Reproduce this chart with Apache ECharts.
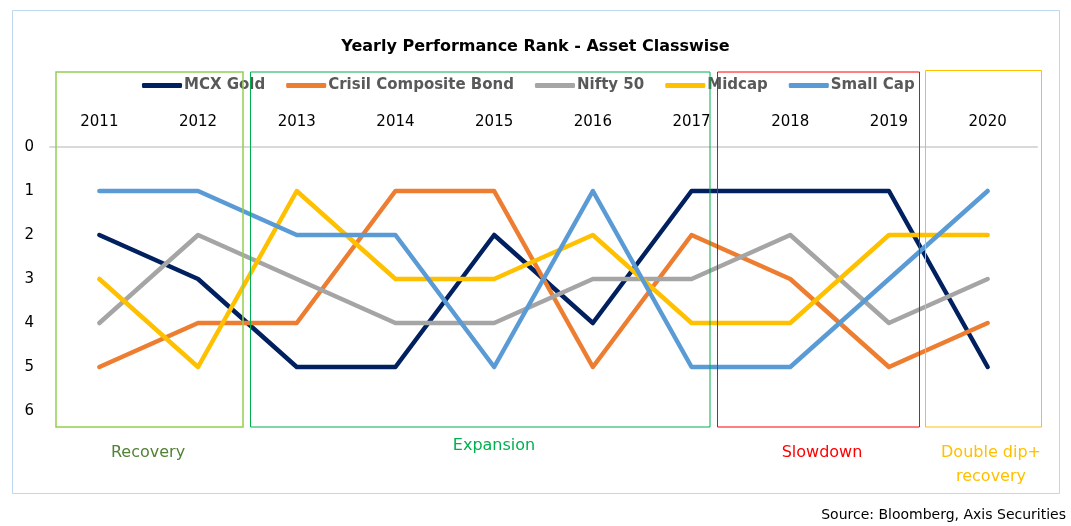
<!DOCTYPE html>
<html>
<head>
<meta charset="utf-8">
<script src="https://cdn.jsdelivr.net/npm/echarts@6/dist/echarts.min.js"></script>
<style>
html,body{margin:0;padding:0;background:#fff;}
#chart{width:1071px;height:526px;}
</style>
</head>
<body>
<div id="chart"></div>
<script>
var years = ['2011','2012','2013','2014','2015','2016','2017','2018','2019','2020'];
var mcxGold = [2,3,5,5,2,4,1,1,1,5];
var crisilBond = [5,4,4,1,1,5,2,3,5,4];
var nifty50 = [4,2,3,4,4,3,3,2,4,3];
var midcap = [3,5,1,3,3,2,4,4,2,2];
var smallCap = [1,1,2,2,5,1,5,5,3,1];
var yTicks = [0,1,2,3,4,5,6];

var FONT = '"DejaVu Sans",Verdana,sans-serif';
var chart = echarts.init(document.getElementById('chart'));

function mk(name, data, color) {
  return {
    name: name, type: 'line', data: data, showSymbol: false, symbol: 'none',
    lineStyle: { color: color, width: 4.5, cap: 'round', join: 'round' },
    itemStyle: { color: color },
    animation: false
  };
}

function box(x1, y1, x2, y2, color, lw) {
  return { type: 'rect', shape: { x: x1, y: y1, width: x2 - x1, height: y2 - y1 },
    style: { fill: null, stroke: color, lineWidth: lw }, z: 10, silent: true };
}
function txt(t, x, y, color, size, weight, align) {
  return { type: 'text', z: 11, silent: true,
    style: { text: t, x: x, y: y, fill: color, font: (weight || 'normal') + ' ' + size + 'px ' + FONT,
      textAlign: align || 'center', textVerticalAlign: 'middle' } };
}

chart.setOption({
  backgroundColor: '#ffffff',
  animation: false,
  title: {
    text: 'Yearly Performance Rank - Asset Classwise',
    left: 'center', top: 34,
    textStyle: { fontFamily: FONT, fontSize: 16, fontWeight: 'bold', color: '#000' }
  },
  legend: {
    left: 137, top: 73, itemGap: 21, itemWidth: 40, itemHeight: 5, icon: 'roundRect',
    textStyle: { fontFamily: FONT, fontSize: 15, fontWeight: 'bold', color: '#595959', padding: [0,0,0,-3] },
    data: ['MCX Gold','Crisil Composite Bond','Nifty 50','Midcap','Small Cap']
  },
  grid: { left: 50, right: 34, top: 147, bottom: 115, containLabel: false },
  xAxis: {
    type: 'category', data: years, position: 'top', boundaryGap: true,
    axisLine: { show: true, lineStyle: { color: '#D9D9D9', width: 2 } },
    axisTick: { show: false },
    axisLabel: { color: '#000', fontFamily: FONT, fontSize: 15, margin: 17 },
    splitLine: { show: false }
  },
  yAxis: {
    type: 'value', min: yTicks[0], max: yTicks[yTicks.length - 1], interval: 1, inverse: true,
    axisLine: { show: false }, axisTick: { show: false },
    axisLabel: { color: '#000', fontFamily: FONT, fontSize: 15, margin: 16 },
    splitLine: { show: false }
  },
  series: [
    mk('MCX Gold', mcxGold, '#002060'),
    mk('Crisil Composite Bond', crisilBond, '#ED7D31'),
    mk('Nifty 50', nifty50, '#A5A5A5'),
    mk('Midcap', midcap, '#FFC000'),
    mk('Small Cap', smallCap, '#5B9BD5')
  ],
  graphic: [
    box(12.5, 10.5, 1059.5, 493.5, '#BDD7EE', 1),
    box(56, 72, 243, 427, '#92D050', 1.5),
    box(250.5, 72, 710, 427, '#00B050', 1),
    box(717.5, 72, 919.5, 427, '#FF0000', 1),
    box(925.5, 70.5, 1041.5, 427, '#FFC000', 1),
    txt('Recovery', 148, 453, '#538135', 16),
    txt('Expansion', 494, 446, '#00B050', 16),
    txt('Slowdown', 822, 453, '#FF0000', 16),
    txt('Double dip+', 991, 453, '#FFC000', 16),
    txt('recovery', 991, 477, '#FFC000', 16),
    txt('Source: Bloomberg, Axis Securities', 1066, 515, '#000', 14, 'normal', 'right')
  ]
});
</script>
</body>
</html>
